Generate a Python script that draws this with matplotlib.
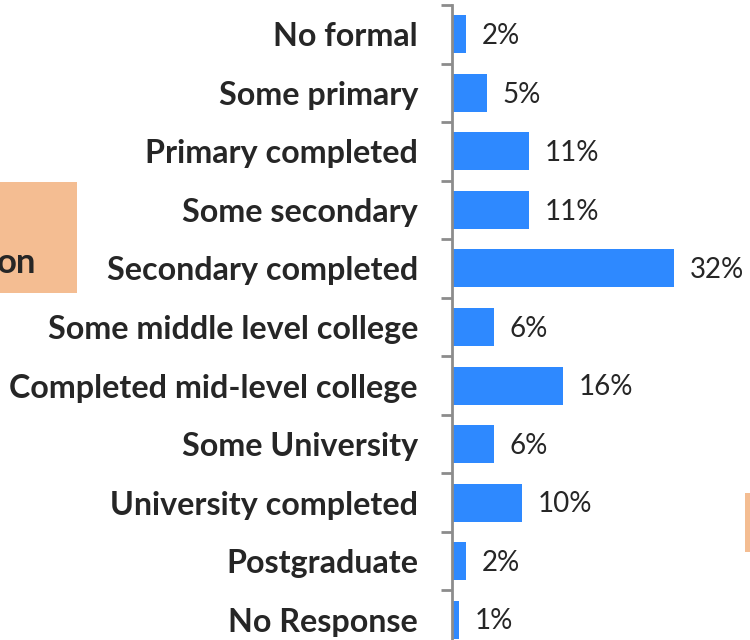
import matplotlib.pyplot as plt
from matplotlib.patches import Rectangle
import numpy as np

categories = ["No formal", "Some primary", "Primary completed", "Some secondary",
              "Secondary completed", "Some middle level college",
              "Completed mid-level college", "Some University",
              "University completed", "Postgraduate", "No Response"]
values = [2, 5, 11, 11, 32, 6, 16, 6, 10, 2, 1]
labels = ["2%", "5%", "11%", "11%", "32%", "6%", "16%", "6%", "10%", "2%", "1%"]

W, H = 750, 640
fig = plt.figure(figsize=(7.5, 6.4), dpi=100)
plt.rcParams['font.family'] = ['Lato', 'DejaVu Sans']

# decorative boxes from the slide behind the chart
fig.patches.append(Rectangle((0, 1 - 293 / H), 77 / W, 111 / H, transform=fig.transFigure,
                             facecolor='#F4BD92', edgecolor='none', zorder=0))
fig.patches.append(Rectangle((745 / W, 1 - 552 / H), 5 / W, 59 / H, transform=fig.transFigure,
                             facecolor='#F4BD92', edgecolor='none', zorder=0))
fig.text(36 / W, 1 - 273 / H, "on", ha='right', va='baseline', fontsize=25,
         fontweight='bold', color='#262626')

ax = fig.add_axes([452 / W, 1 - 649 / H, 1 - 452 / W, 644 / H])
ax.patch.set_alpha(0)
y = np.arange(len(categories))
ax.barh(y, values, height=0.65, color='#2E89FF', left=0.05)
for yi, v, lab in zip(y, values, labels):
    ax.text(v + 2.3, yi + 0.03, lab, va='center', ha='left', fontsize=20, color='#262626')

ax.set_xlim(0, (W - 452) / 6.94)
ax.set_ylim(len(categories) - 0.5, -0.5)
ax.set_yticks(y)
ax.set_yticklabels(categories, fontsize=23.2, fontweight='bold', color='#262626')
ax.tick_params(axis='y', which='major', length=0, pad=24.5)
ax.set_yticks(np.arange(len(categories) + 1) - 0.5, minor=True)
ax.tick_params(axis='y', which='minor', length=8, width=2, color='#8C8C8C', direction='out')
ax.set_xticks([])
for s in ['top', 'right', 'bottom']:
    ax.spines[s].set_visible(False)
ax.spines['left'].set_color('#8C8C8C')
ax.spines['left'].set_linewidth(2)

fig.savefig('out.png', dpi=100)
